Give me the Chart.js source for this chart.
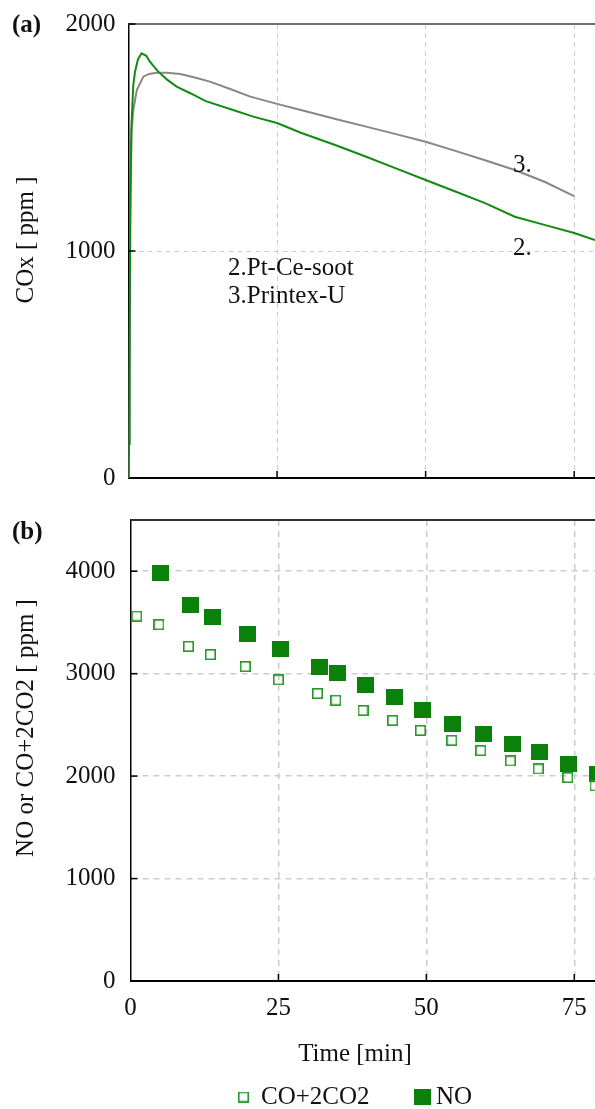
<!DOCTYPE html>
<html>
<head>
<meta charset="utf-8">
<script src="https://cdn.jsdelivr.net/npm/chart.js@4.4.1/dist/chart.umd.min.js"></script>
<style>
  body { margin: 0; background: #fff; }
  canvas { position: absolute; left: 0; }
  #top { top: 0; }
  #bottom { top: 500px; }
</style>
</head>
<body>
<canvas id="top" width="595" height="500"></canvas>
<canvas id="bottom" width="595" height="609"></canvas>
<script>
// panel (a): COx vs time
var greenTime = [0, 0.1, 0.2, 0.3, 0.5, 0.8, 1.1, 1.6, 2.2, 3.0, 3.6, 5.0, 6.5, 8.1, 10.4, 13.0, 17.6, 21.0, 25.0, 29.0, 35.0, 40.0, 45.0, 50.0, 55.0, 60.0, 65.0, 70.0, 75.0, 78.5];
var greenVal = [0, 150, 600, 1240, 1550, 1730, 1790, 1845, 1871, 1860, 1834, 1790, 1755, 1724, 1695, 1660, 1621, 1592, 1564, 1521, 1465, 1415, 1364, 1313, 1262, 1211, 1151, 1115, 1079, 1048];
var grayTime = [0, 0.1, 0.3, 0.5, 0.8, 1.4, 2.5, 3.5, 4.7, 6.5, 8.7, 11.0, 13.7, 17.0, 20.5, 25.0, 29.0, 35.0, 40.0, 45.0, 50.0, 55.0, 60.0, 65.0, 70.0, 75.0];
var grayVal = [0, 200, 1100, 1520, 1620, 1709, 1768, 1780, 1785, 1785, 1780, 1765, 1746, 1715, 1680, 1648, 1621, 1580, 1548, 1515, 1481, 1441, 1400, 1357, 1305, 1242];

// panel (b): NO and CO+2CO2 vs time
var coTime = [1.05, 4.8, 9.8, 13.5, 19.4, 25.0, 31.6, 34.7, 39.3, 44.3, 49.0, 54.3, 59.2, 64.2, 68.9, 73.9, 78.5];
var coVal = [3562, 3478, 3267, 3186, 3069, 2940, 2806, 2741, 2641, 2544, 2446, 2349, 2249, 2148, 2070, 1986, 1905];
var noTime = [5.1, 10.1, 13.8, 19.7, 25.3, 31.9, 34.9, 39.7, 44.6, 49.3, 54.5, 59.6, 64.5, 69.2, 74.1, 79.0];
var noVal = [3983, 3672, 3549, 3390, 3237, 3069, 3004, 2887, 2770, 2644, 2508, 2410, 2313, 2235, 2119, 2025];

var xTicks = [0, 25, 50, 75];
var yTicksA = [0, 1000, 2000];
var yTicksB = [0, 1000, 2000, 3000, 4000];

var SERIF = "'Liberation Serif', 'Times New Roman', serif";
Chart.defaults.font.family = SERIF;
Chart.defaults.font.size = 25;
Chart.defaults.color = '#111';

function pairs(xs, ys) {
    return xs.map(function(x, i){ return {x: x, y: ys[i]}; });
}

function squareImg(w, h, fill, stroke, lw) {
    var c = document.createElement('canvas');
    c.width = w; c.height = h;
    var g = c.getContext('2d');
    if (fill) { g.fillStyle = fill; g.fillRect(0, 0, w, h); }
    if (stroke) { g.strokeStyle = stroke; g.lineWidth = lw; g.strokeRect(lw/2, lw/2, w-lw, h-lw); }
    return c;
}

function fixTicks(list) {
    return function(scale){ scale.ticks = list.map(function(v){ return {value: v}; }); };
}

// no extra room for the first/last labels, the plot box is fixed
function fixWidth(w) {
    return function(s){ s.width = w; s.paddingTop = 0; s.paddingBottom = 0; };
}
function fixHeight(h) {
    return function(s){ s.height = h; s.paddingLeft = 0; s.paddingRight = 0; };
}

function plain(v) { return String(v); }

function gridColor(max) {
    return function(ctx){
        if (!ctx.tick || ctx.tick.value === 0 || ctx.tick.value === max) return 'rgba(0,0,0,0)';
        return '#cccccc';
    };
}

// frame top, inner ticks, free texts and legend
var extras = {
    id: 'extras',
    afterDraw: function(chart, args, opts){
        var ctx = chart.ctx, a = chart.chartArea;
        var sx = chart.scales.x, sy = chart.scales.y;
        ctx.save();
        ctx.strokeStyle = opts.frameColor;
        ctx.lineWidth = 2;
        ctx.beginPath(); ctx.moveTo(a.left, a.top); ctx.lineTo(a.right + 1, a.top); ctx.stroke();

        ctx.strokeStyle = '#000';
        ctx.lineWidth = 1.5;
        sx.ticks.forEach(function(t){
            if (t.value <= 0) return;
            var p = sx.getPixelForValue(t.value);
            ctx.beginPath(); ctx.moveTo(p, a.bottom); ctx.lineTo(p, a.bottom - 7); ctx.stroke();
        });
        sy.ticks.forEach(function(t){
            if (t.value <= 0) return;
            var p = sy.getPixelForValue(t.value);
            ctx.beginPath(); ctx.moveTo(a.left, p); ctx.lineTo(a.left + 7, p); ctx.stroke();
        });

        ctx.fillStyle = '#111';
        (opts.texts || []).forEach(function(t){
            ctx.save();
            ctx.font = (t.bold ? 'bold ' : '') + (t.size || 25) + 'px ' + SERIF;
            ctx.textAlign = t.align || 'left';
            ctx.textBaseline = 'middle';
            ctx.translate(t.x, t.y);
            if (t.rotate) ctx.rotate(-Math.PI / 2);
            ctx.fillText(t.text, 0, 0);
            ctx.restore();
        });

        (opts.legend || []).forEach(function(l, i){
            var ds = chart.data.datasets[i];
            var img = ds.pointStyle;
            ctx.drawImage(img, l.mx - img.width/2, l.y - img.height/2);
            ctx.font = '25px ' + SERIF;
            ctx.textAlign = 'left';
            ctx.textBaseline = 'middle';
            ctx.fillText(ds.label, l.tx, l.y);
        });
        ctx.restore();
    }
};

var topChart = new Chart(document.getElementById('top'), {
    type: 'line',
    data: {
        datasets: [
            { label: '2.Pt-Ce-soot', data: pairs(greenTime, greenVal), borderColor: '#138a13', borderWidth: 2, pointRadius: 0, tension: 0 },
            { label: '3.Printex-U', data: pairs(grayTime, grayVal), borderColor: '#878787', borderWidth: 2, pointRadius: 0, tension: 0 }
        ]
    },
    options: {
        responsive: false,
        animation: false,
        devicePixelRatio: 1,
        layout: { autoPadding: false, padding: { top: 24, left: 0, right: 0, bottom: 0 } },
        plugins: {
            legend: { display: false },
            tooltip: { enabled: false },
            extras: {
                frameColor: '#707070',
                texts: [
                    { text: '(a)', x: 12, y: 26, bold: true },
                    { text: 'COx [ ppm ]', x: 26, y: 240, rotate: true, align: 'center' },
                    { text: '2.Pt-Ce-soot', x: 228, y: 268 },
                    { text: '3.Printex-U', x: 228, y: 296 },
                    { text: '3.', x: 513, y: 165 },
                    { text: '2.', x: 513, y: 248 }
                ]
            }
        },
        scales: {
            x: {
                type: 'linear', min: 0, max: 78.5,
                afterBuildTicks: fixTicks(xTicks),
                afterFit: fixHeight(22),
                ticks: { display: false },
                grid: { color: gridColor(-1), lineWidth: 1, drawTicks: false },
                border: { color: '#000', width: 2, dash: [5, 4] }
            },
            y: {
                min: 0, max: 2000,
                afterBuildTicks: fixTicks(yTicksA),
                afterFit: fixWidth(128.5),
                ticks: { padding: 13, callback: plain },
                grid: { color: gridColor(2000), lineWidth: 1, drawTicks: false },
                border: { color: '#000', width: 1.5, dash: [5, 4] }
            }
        }
    },
    plugins: [extras]
});

var openSq = squareImg(11, 11, null, '#2b952b', 1.6);
var fillSq = squareImg(17, 16, '#0b800b', null, 0);

var bottomChart = new Chart(document.getElementById('bottom'), {
    type: 'scatter',
    data: {
        datasets: [
            { label: 'CO+2CO2', data: pairs(coTime, coVal), pointStyle: openSq },
            { label: 'NO', data: pairs(noTime, noVal), pointStyle: fillSq }
        ]
    },
    options: {
        responsive: false,
        animation: false,
        devicePixelRatio: 1,
        layout: { autoPadding: false, padding: { top: 20, left: 0, right: 0, bottom: 0 } },
        plugins: {
            legend: { display: false },
            tooltip: { enabled: false },
            extras: {
                frameColor: '#333333',
                texts: [
                    { text: '(b)', x: 12, y: 33, bold: true },
                    { text: 'NO or CO+2CO2 [ ppm ]', x: 26, y: 228, rotate: true, align: 'center' },
                    { text: 'Time [min]', x: 355, y: 554, align: 'center' }
                ],
                legend: [
                    { mx: 243.5, tx: 261, y: 597 },
                    { mx: 422.5, tx: 436, y: 597 }
                ]
            }
        },
        scales: {
            x: {
                type: 'linear', min: 0, max: 78.5,
                afterBuildTicks: fixTicks(xTicks),
                afterFit: fixHeight(128),
                ticks: { padding: 12, callback: plain },
                grid: { color: gridColor(-1), lineWidth: 1.5, drawTicks: false },
                border: { color: '#000', width: 2, dash: [6, 5] }
            },
            y: {
                min: 0, max: 4500,
                afterBuildTicks: fixTicks(yTicksB),
                afterFit: fixWidth(130.5),
                ticks: { padding: 15, callback: plain },
                grid: { color: gridColor(4500), lineWidth: 1.5, drawTicks: false },
                border: { color: '#000', width: 1.5, dash: [6, 5] }
            }
        }
    },
    plugins: [extras]
});
</script>
</body>
</html>
